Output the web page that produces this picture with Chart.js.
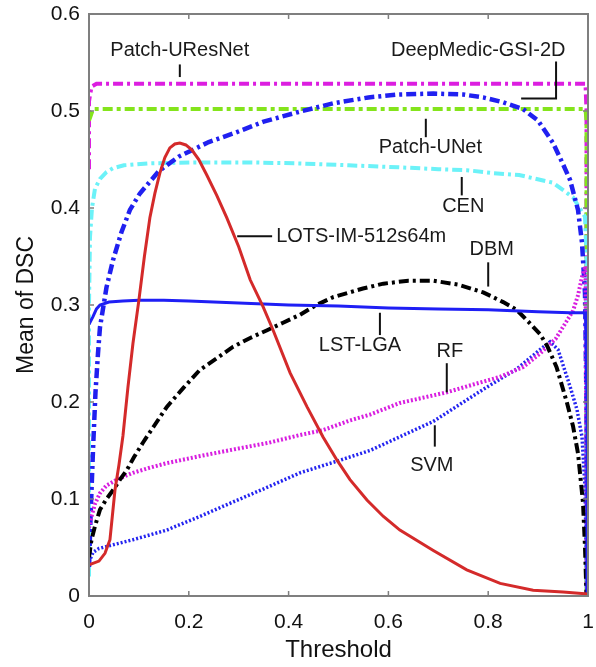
<!DOCTYPE html>
<html>
<head>
<meta charset="utf-8">
<script src="https://cdn.jsdelivr.net/npm/chart.js@4.4.1/dist/chart.umd.min.js"></script>
<style>
  body { margin: 0; background: #fff; }
  canvas { display: block; }
</style>
</head>
<body>
<canvas id="dsc" width="596" height="667"></canvas>
<script>
// tick labels
var xTickLabels = ['0', '0.2', '0.4', '0.6', '0.8', '1'];
var yTickLabels = ['0', '0.1', '0.2', '0.3', '0.4', '0.5', '0.6'];

// series (threshold -> mean DSC)
var uresnetX = [0, 0, 0.005, 0.015, 0.5, 0.995, 0.997, 0.997];
var uresnetY = [0.44, 0.51, 0.525, 0.528, 0.528, 0.528, 0.5, 0];

var unetX = [0, 0.008, 0.5, 0.995, 0.997, 0.997];
var unetY = [0.49, 0.502, 0.502, 0.502, 0.49, 0];

var deepmedicX = [0, 0.003, 0.008, 0.013, 0.018, 0.022, 0.035, 0.048, 0.065, 0.082, 0.102, 0.14, 0.18, 0.24, 0.29, 0.35, 0.42, 0.49, 0.56, 0.62, 0.69, 0.75, 0.79, 0.83, 0.87, 0.9, 0.93, 0.95, 0.964, 0.98, 0.988, 0.994, 0.997, 0.999];
var deepmedicY = [0.03, 0.08, 0.15, 0.21, 0.25, 0.277, 0.318, 0.346, 0.375, 0.398, 0.415, 0.438, 0.453, 0.468, 0.477, 0.489, 0.499, 0.508, 0.514, 0.517, 0.518, 0.517, 0.514, 0.509, 0.502, 0.49, 0.467, 0.445, 0.429, 0.398, 0.364, 0.312, 0.2, 0];

var cenX = [0, 0, 0.002, 0.006, 0.012, 0.022, 0.035, 0.048, 0.07, 0.12, 0.22, 0.32, 0.42, 0.52, 0.62, 0.7, 0.757, 0.81, 0.862, 0.93, 0.97, 0.994, 0.997, 0.997];
var cenY = [0.02, 0.3, 0.37, 0.4, 0.42, 0.43, 0.437, 0.441, 0.444, 0.446, 0.447, 0.447, 0.446, 0.444, 0.442, 0.44, 0.439, 0.436, 0.434, 0.426, 0.411, 0.391, 0.35, 0];

var lotsX = [0, 0.02, 0.032, 0.042, 0.052, 0.06, 0.068, 0.078, 0.088, 0.1, 0.111, 0.122, 0.132, 0.142, 0.152, 0.162, 0.172, 0.182, 0.194, 0.206, 0.22, 0.236, 0.256, 0.276, 0.3, 0.323, 0.349, 0.369, 0.403, 0.437, 0.469, 0.497, 0.523, 0.557, 0.59, 0.623, 0.69, 0.757, 0.824, 0.89, 0.95, 1];
var lotsY = [0.032, 0.036, 0.044, 0.058, 0.109, 0.135, 0.165, 0.215, 0.26, 0.305, 0.35, 0.39, 0.415, 0.436, 0.452, 0.462, 0.466, 0.467, 0.465, 0.46, 0.45, 0.434, 0.413, 0.39, 0.36, 0.326, 0.298, 0.274, 0.23, 0.195, 0.164, 0.14, 0.12, 0.099, 0.082, 0.068, 0.047, 0.027, 0.013, 0.006, 0.004, 0.002];

var lstX = [0, 0.008, 0.015, 0.022, 0.04, 0.068, 0.1, 0.15, 0.2, 0.3, 0.4, 0.5, 0.6, 0.7, 0.8, 0.9, 0.964, 0.995, 0.998, 0.998];
var lstY = [0.28, 0.288, 0.296, 0.3, 0.303, 0.304, 0.305, 0.305, 0.304, 0.302, 0.3, 0.299, 0.297, 0.296, 0.295, 0.293, 0.292, 0.292, 0.2, 0];

var dbmX = [0, 0.005, 0.012, 0.022, 0.035, 0.048, 0.062, 0.076, 0.09, 0.108, 0.13, 0.156, 0.19, 0.222, 0.256, 0.289, 0.323, 0.357, 0.39, 0.423, 0.456, 0.489, 0.549, 0.59, 0.64, 0.69, 0.74, 0.79, 0.83, 0.857, 0.88, 0.904, 0.918, 0.937, 0.958, 0.97, 0.98, 0.99, 0.994, 0.997];
var dbmY = [0.04, 0.058, 0.072, 0.089, 0.1, 0.109, 0.12, 0.13, 0.143, 0.158, 0.175, 0.195, 0.215, 0.233, 0.245, 0.257, 0.266, 0.274, 0.282, 0.29, 0.3, 0.308, 0.317, 0.322, 0.325, 0.325, 0.321, 0.313, 0.303, 0.295, 0.283, 0.27, 0.258, 0.236, 0.199, 0.175, 0.147, 0.096, 0.05, 0];

var rfX = [0, 0.005, 0.012, 0.022, 0.035, 0.056, 0.088, 0.12, 0.156, 0.22, 0.289, 0.36, 0.423, 0.469, 0.523, 0.563, 0.623, 0.717, 0.77, 0.824, 0.87, 0.904, 0.935, 0.958, 0.97, 0.98, 0.988, 0.995, 0.998];
var rfY = [0.07, 0.082, 0.095, 0.106, 0.114, 0.12, 0.127, 0.132, 0.137, 0.144, 0.151, 0.158, 0.166, 0.171, 0.181, 0.187, 0.199, 0.21, 0.218, 0.226, 0.236, 0.25, 0.265, 0.284, 0.294, 0.31, 0.329, 0.34, 0];

var svmX = [0, 0.008, 0.02, 0.042, 0.088, 0.156, 0.222, 0.289, 0.357, 0.423, 0.503, 0.563, 0.597, 0.69, 0.79, 0.857, 0.904, 0.924, 0.94, 0.964, 0.978, 0.988, 0.994, 0.998];
var svmY = [0.035, 0.045, 0.049, 0.052, 0.058, 0.068, 0.082, 0.097, 0.112, 0.127, 0.14, 0.15, 0.158, 0.18, 0.213, 0.234, 0.254, 0.262, 0.254, 0.216, 0.192, 0.164, 0.112, 0];

// callouts: text, text anchor (data coords), leader line points (data coords)
var callouts = [
    { text: 'Patch-UResNet', x: 0.182, y: 0.562, align: 'center', line: [[0.182, 0.548], [0.182, 0.535]] },
    { text: 'DeepMedic-GSI-2D', x: 0.78, y: 0.562, align: 'center', line: [[0.936, 0.551], [0.936, 0.513], [0.866, 0.513]] },
    { text: 'Patch-UNet', x: 0.684, y: 0.462, align: 'center', line: [[0.675, 0.492], [0.675, 0.473]] },
    { text: 'CEN', x: 0.75, y: 0.402, align: 'center', line: [[0.747, 0.432], [0.747, 0.413]] },
    { text: 'LOTS-IM-512s64m', x: 0.375, y: 0.371, align: 'left', line: [[0.297, 0.371], [0.367, 0.371]] },
    { text: 'DBM', x: 0.807, y: 0.357, align: 'center', line: [[0.8, 0.344], [0.8, 0.319]] },
    { text: 'LST-LGA', x: 0.543, y: 0.258, align: 'center', line: [[0.583, 0.292], [0.583, 0.269]] },
    { text: 'RF', x: 0.723, y: 0.252, align: 'center', line: [[0.717, 0.24], [0.717, 0.21]] },
    { text: 'SVM', x: 0.687, y: 0.135, align: 'center', line: [[0.693, 0.176], [0.693, 0.154]] }
];

function pts(xs, ys) {
    var out = [];
    for (var i = 0; i < xs.length; i++) out.push({ x: xs[i], y: ys[i] });
    return out;
}

function series(label, xs, ys, color, width, dash) {
    return {
        label: label,
        data: pts(xs, ys),
        borderColor: color,
        borderWidth: width,
        borderDash: dash,
        pointRadius: 0,
        tension: 0,
        fill: false
    };
}

var dashDot = [10, 4, 3, 4];
var dotted = [2, 2];

// first dataset is drawn on top
var datasets = [
    series('LOTS-IM-512s64m', lotsX, lotsY, '#d42a2a', 3, []),
    series('LST-LGA', lstX, lstY, '#1f1ff5', 3, []),
    series('DBM', dbmX, dbmY, '#000000', 4, dashDot),
    series('RF', rfX, rfY, '#d81fe0', 4, dotted),
    series('SVM', svmX, svmY, '#2424f0', 3.5, dotted),
    series('DeepMedic-GSI-2D', deepmedicX, deepmedicY, '#2020f0', 4.5, dashDot),
    series('CEN', cenX, cenY, '#6cf2f8', 4, dashDot),
    series('Patch-UNet', unetX, unetY, '#84e41c', 4, [10, 4, 4, 4]),
    series('Patch-UResNet', uresnetX, uresnetY, '#dc1ee0', 4, dashDot)
];

var framePlugin = {
    id: 'frame',
    afterDatasetsDraw: function(chart) {
        var ctx = chart.ctx;
        var a = chart.chartArea;
        var xs = chart.scales.x, ys = chart.scales.y;
        ctx.save();
        ctx.strokeStyle = '#7f7f7f';
        ctx.lineWidth = 2;
        ctx.setLineDash([]);
        ctx.strokeRect(a.left, a.top, a.right - a.left, a.bottom - a.top);
        ctx.lineWidth = 1.5;
        ctx.beginPath();
        xs.ticks.forEach(function(t) {
            var px = xs.getPixelForValue(t.value);
            ctx.moveTo(px, a.bottom); ctx.lineTo(px, a.bottom - 5);
            ctx.moveTo(px, a.top); ctx.lineTo(px, a.top + 5);
        });
        ys.ticks.forEach(function(t) {
            var py = ys.getPixelForValue(t.value);
            ctx.moveTo(a.left, py); ctx.lineTo(a.left + 5, py);
            ctx.moveTo(a.right, py); ctx.lineTo(a.right - 5, py);
        });
        ctx.stroke();

        // callouts
        ctx.strokeStyle = '#111';
        ctx.lineWidth = 2;
        ctx.fillStyle = '#1a1a1a';
        ctx.font = '20px "Liberation Sans", Arial, sans-serif';
        ctx.textBaseline = 'middle';
        callouts.forEach(function(c) {
            ctx.beginPath();
            c.line.forEach(function(p, i) {
                var px = xs.getPixelForValue(p[0]), py = ys.getPixelForValue(p[1]);
                if (i == 0) ctx.moveTo(px, py); else ctx.lineTo(px, py);
            });
            ctx.stroke();
            ctx.textAlign = c.align;
            ctx.fillText(c.text, xs.getPixelForValue(c.x), ys.getPixelForValue(c.y));
        });
        ctx.restore();
    }
};

var font = '"Liberation Sans", Arial, sans-serif';

new Chart(document.getElementById('dsc').getContext('2d'), {
    type: 'line',
    data: { datasets: datasets },
    options: {
        responsive: false,
        animation: false,
        layout: { padding: { left: 0, right: 8, top: 14, bottom: 0 } },
        plugins: { legend: { display: false }, tooltip: { enabled: false } },
        scales: {
            x: {
                type: 'linear',
                min: 0,
                max: 1,
                afterFit: function(scale) {
                    scale.height = 71;
                    scale.paddingLeft = 0;
                    scale.paddingRight = 0;
                },
                grid: { display: false, drawTicks: false },
                border: { display: false },
                ticks: {
                    stepSize: 0.2,
                    padding: 14,
                    color: '#111',
                    font: { family: font, size: 21 },
                    maxRotation: 0,
                    callback: function(v, i) { return xTickLabels[i]; }
                },
                title: {
                    display: true,
                    text: 'Threshold',
                    color: '#111',
                    font: { family: font, size: 24 },
                    padding: { top: 0, bottom: 2 }
                }
            },
            y: {
                min: 0,
                max: 0.6,
                afterFit: function(scale) {
                    scale.width = 89;
                    scale.paddingTop = 0;
                    scale.paddingBottom = 0;
                },
                grid: { display: false, drawTicks: false },
                border: { display: false },
                ticks: {
                    stepSize: 0.1,
                    padding: 9,
                    color: '#111',
                    font: { family: font, size: 21 },
                    callback: function(v, i) { return yTickLabels[i]; }
                },
                title: {
                    display: true,
                    text: 'Mean of DSC',
                    color: '#111',
                    font: { family: font, size: 23 },
                    padding: { top: 13, bottom: 0 }
                }
            }
        }
    },
    plugins: [framePlugin]
});
</script>
</body>
</html>
